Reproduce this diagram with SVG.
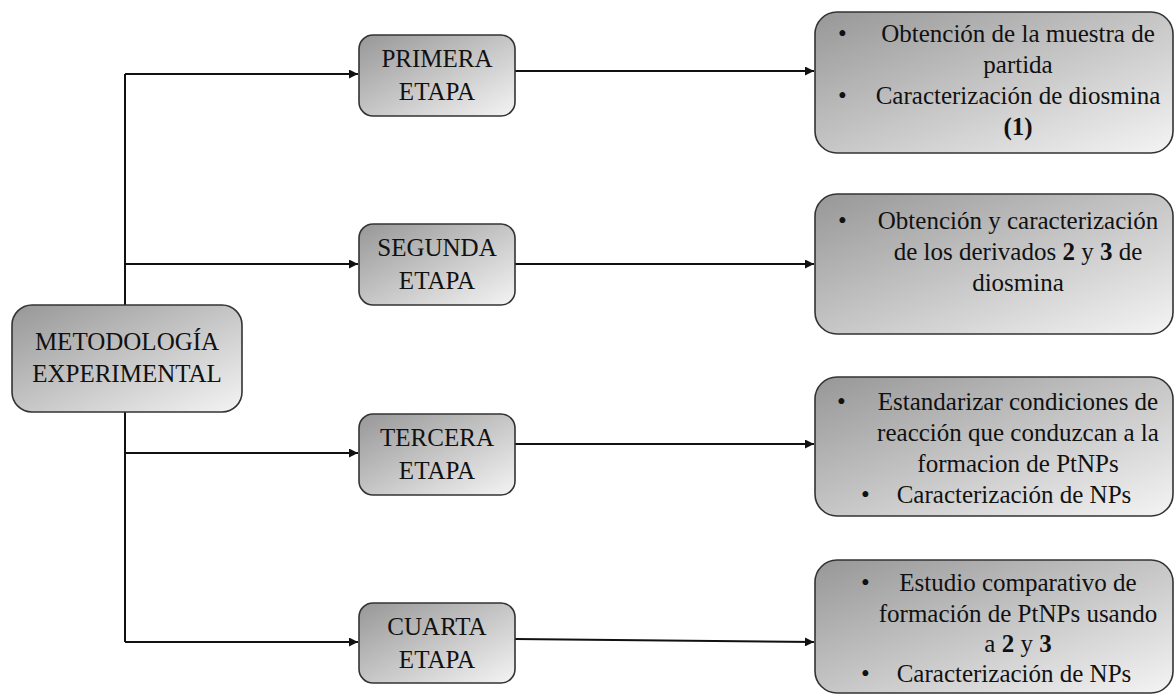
<svg xmlns="http://www.w3.org/2000/svg" width="1176" height="696" viewBox="0 0 1176 696">
<style>
.box{fill:url(#g);stroke:#333;stroke-width:1.6}
.t{font-family:"Liberation Serif","Times New Roman",Times,"DejaVu Serif",serif;font-size:25px;fill:#111}
.c{text-anchor:middle}
.ln{fill:none;stroke:#111;stroke-width:2}
.b{font-weight:bold}
</style>
<defs>
<linearGradient id="g" x1="0" y1="0" x2="1" y2="1">
<stop offset="0" stop-color="#979797"/>
<stop offset="1" stop-color="#f4f4f4"/>
</linearGradient>
<marker id="a" viewBox="0 0 10 10" refX="10" refY="5" markerWidth="5" markerHeight="4.5" orient="auto" markerUnits="strokeWidth">
<path d="M0,0 L10,5 L0,10 z" fill="#111"/>
</marker>
</defs>
<rect width="1176" height="696" fill="#fff"/>
<g id="connectors">
<path class="ln" d="M125,305 V74"/>
<path class="ln" d="M125,412 V642"/>
<path class="ln" d="M125,74 H358" marker-end="url(#a)"/>
<path class="ln" d="M125,264 H358" marker-end="url(#a)"/>
<path class="ln" d="M125,453 H358" marker-end="url(#a)"/>
<path class="ln" d="M125,642 H358" marker-end="url(#a)"/>
<path class="ln" d="M515,71 H814" marker-end="url(#a)"/>
<path class="ln" d="M515,264 H814" marker-end="url(#a)"/>
<path class="ln" d="M515,444 H814" marker-end="url(#a)"/>
<path class="ln" d="M515,639 L814,642" marker-end="url(#a)"/>
</g>
<g id="metodologia">
<rect class="box" x="12" y="305" width="230" height="107" rx="20"/>
<text class="t c" x="127" y="350" font-family="Liberation Serif, serif">METODOLOGÍA</text>
<text class="t c" x="127" y="382">EXPERIMENTAL</text>
</g>
<g id="primera">
<rect class="box" x="359" y="35" width="156" height="81" rx="14"/>
<text class="t c" x="437" y="67">PRIMERA</text>
<text class="t c" x="437" y="100">ETAPA</text>
</g>
<g id="segunda">
<rect class="box" x="359" y="224" width="156" height="81" rx="14"/>
<text class="t c" x="437" y="256">SEGUNDA</text>
<text class="t c" x="437" y="289">ETAPA</text>
</g>
<g id="tercera">
<rect class="box" x="359" y="414" width="156" height="81" rx="14"/>
<text class="t c" x="437" y="446">TERCERA</text>
<text class="t c" x="437" y="479">ETAPA</text>
</g>
<g id="cuarta">
<rect class="box" x="359" y="603" width="156" height="80" rx="14"/>
<text class="t c" x="437" y="635">CUARTA</text>
<text class="t c" x="437" y="668">ETAPA</text>
</g>
<g id="resultado1">
<rect class="box" x="815" y="12" width="358" height="141" rx="22"/>
<text class="t" x="838" y="42">•</text>
<text class="t c" x="1018" y="42">Obtención de la muestra de</text>
<text class="t c" x="1018" y="73">partida</text>
<text class="t" x="838" y="104">•</text>
<text class="t c" x="1018" y="104">Caracterización de diosmina</text>
<text class="t c" x="1018" y="135"><tspan class="b">(1)</tspan></text>
</g>
<g id="resultado2">
<rect class="box" x="815" y="194" width="358" height="140" rx="22"/>
<text class="t" x="838" y="229">•</text>
<text class="t c" x="1018" y="229">Obtención y caracterización</text>
<text class="t c" x="1018" y="260">de los derivados  <tspan class="b">2</tspan> y <tspan class="b">3</tspan> de</text>
<text class="t c" x="1018" y="291">diosmina</text>
</g>
<g id="resultado3">
<rect class="box" x="815" y="377" width="358" height="139" rx="22"/>
<text class="t" x="837" y="410">•</text>
<text class="t c" x="1018" y="410">Estandarizar condiciones de</text>
<text class="t c" x="1018" y="441">reacción que conduzcan a la</text>
<text class="t c" x="1018" y="472">formacion de PtNPs</text>
<text class="t" x="861" y="503">•</text>
<text class="t c" x="1014" y="503">Caracterización de NPs</text>
</g>
<g id="resultado4">
<rect class="box" x="815" y="560" width="358" height="133" rx="22"/>
<text class="t" x="861" y="591">•</text>
<text class="t c" x="1018" y="591">Estudio comparativo de</text>
<text class="t c" x="1018" y="622">formación de PtNPs usando</text>
<text class="t c" x="1018" y="652">a <tspan class="b">2</tspan> y <tspan class="b">3</tspan></text>
<text class="t" x="861" y="682">•</text>
<text class="t c" x="1014" y="682">Caracterización de NPs</text>
</g>
</svg>
